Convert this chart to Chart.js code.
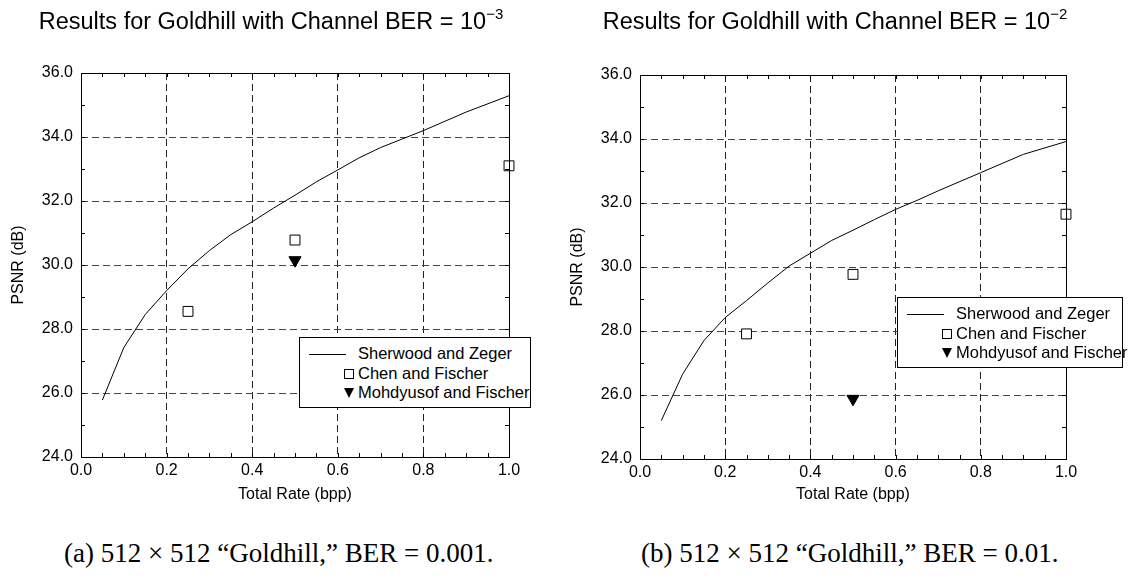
<!DOCTYPE html>
<html>
<head>
<meta charset="utf-8">
<script src="https://cdn.jsdelivr.net/npm/chart.js@4.4.1/dist/chart.umd.min.js"></script>
<style>
  html, body { margin: 0; padding: 0; background: #fff; }
  body { width: 1130px; height: 586px; position: relative; overflow: hidden; font-family: "Liberation Sans", Arial, sans-serif; color: #000; }
  canvas { position: absolute; top: 0; }
  #chartA { left: 0; }
  #chartB { left: 559px; }
  .title { position: absolute; top: 10px; width: 560px; text-align: center; font-size: 23.5px; line-height: 23px; white-space: nowrap; }
  .title sup { font-size: 15px; line-height: 0; vertical-align: 10px; }
  .legend { position: absolute; height: 71px; border: 1px solid #000; background: #fff; font-size: 16.5px; padding-top: 6px; box-sizing: border-box; }
  .legend .row { position: relative; height: 19.5px; line-height: 19.5px; padding-left: 58px; white-space: nowrap; }
  .legend .sym { position: absolute; }
  .legend .line { left: 9px; top: 10px; width: 37px; border-top: 1px solid #000; }
  .legend .rect { left: 44px; top: 5px; width: 8px; height: 8px; border: 1px solid #000; }
  .legend .tri { left: 44px; top: 5px; width: 0; height: 0; border-left: 5.5px solid transparent; border-right: 5.5px solid transparent; border-top: 10px solid #000; }
  .caption { position: absolute; top: 538px; font-family: "Liberation Serif", "Times New Roman", serif; font-size: 27px; white-space: nowrap; }
</style>
</head>
<body>
<canvas id="chartA" width="560" height="510"></canvas>
<canvas id="chartB" width="560" height="510"></canvas>
<div class="title" id="titleA" style="left:-9px">Results for Goldhill with Channel BER = 10<sup>&minus;3</sup></div>
<div class="title" id="titleB" style="left:555px">Results for Goldhill with Channel BER = 10<sup>&minus;2</sup></div>
<div class="legend" id="legendA" style="left:299px; top:337px; width:232px"></div>
<div class="legend" id="legendB" style="left:897px; top:297px; width:226px"></div>
<div class="caption" style="left:64px">(a) 512 &times; 512 &ldquo;Goldhill,&rdquo; BER = 0.001.</div>
<div class="caption" style="left:641px">(b) 512 &times; 512 &ldquo;Goldhill,&rdquo; BER = 0.01.</div>

<script>
// total rate (bpp) samples of the Sherwood and Zeger curve
const RATE = [0.05, 0.1, 0.15, 0.2, 0.25, 0.3, 0.35, 0.4, 0.45, 0.5, 0.55, 0.6, 0.65, 0.7, 0.8, 0.9, 1.0];
const SZ_BER3 = [25.78, 27.42, 28.45, 29.2, 29.88, 30.45, 30.95, 31.35, 31.78, 32.18, 32.6, 32.97, 33.35, 33.67, 34.2, 34.78, 35.29];
const SZ_BER2 = [25.2, 26.65, 27.7, 28.42, 28.95, 29.5, 30.03, 30.43, 30.83, 31.15, 31.48, 31.8, 32.08, 32.38, 32.95, 33.52, 33.92];

// Chen and Fischer
const CF_RATE = [0.25, 0.5, 1.0];
const CF_BER3 = [28.55, 30.78, 33.1];
const CF_BER2 = [27.91, 29.77, 31.65];

// Mohdyusof and Fischer
const MF_RATE = [0.5];
const MF_BER3 = [30.15];
const MF_BER2 = [25.88];

const SERIES = ['Sherwood and Zeger', 'Chen and Fischer', 'Mohdyusof and Fischer'];

// axes
const X_RANGE = [0, 1];
const X_MAJOR = 0.2;
const X_MINOR = 0.05;
const Y_RANGE = [24, 36];
const Y_MAJOR = 2;
const Y_MINOR = 1;

const FONT = '"Liberation Sans", Arial, sans-serif';

function xy(xs, ys) {
  return xs.map((x, i) => ({ x, y: ys[i] }));
}

function isMajor(v, step) {
  return Math.abs(v / step - Math.round(v / step)) < 1e-6;
}

// box round the plot plus short inward ticks on all four sides
const frameTicks = {
  id: 'frameTicks',
  afterDraw(chart) {
    const { ctx, chartArea: a, scales: { x, y } } = chart;
    const len = 4;
    ctx.save();
    ctx.strokeStyle = '#000';
    ctx.lineWidth = 1;
    ctx.beginPath();
    x.ticks.forEach(t => {
      const px = Math.round(x.getPixelForValue(t.value)) + 0.5;
      ctx.moveTo(px, a.bottom); ctx.lineTo(px, a.bottom - len);
      ctx.moveTo(px, a.top); ctx.lineTo(px, a.top + len);
    });
    y.ticks.forEach(t => {
      const py = Math.round(y.getPixelForValue(t.value)) + 0.5;
      ctx.moveTo(a.left, py); ctx.lineTo(a.left + len, py);
      ctx.moveTo(a.right, py); ctx.lineTo(a.right - len, py);
    });
    ctx.stroke();
    ctx.strokeRect(Math.round(a.left) + 0.5, Math.round(a.top) + 0.5, Math.round(a.width), Math.round(a.height));
    ctx.restore();
  }
};

function makeChart(id, sz, cf, mf, area) {
  return new Chart(document.getElementById(id), {
    type: 'scatter',
    data: {
      datasets: [
        { label: SERIES[0], data: xy(RATE, sz), showLine: true, borderColor: '#000', borderWidth: 1, pointRadius: 0, tension: 0, clip: false },
        { label: SERIES[1], data: xy(CF_RATE, cf), pointStyle: 'rect', pointRadius: 7, borderColor: '#000', backgroundColor: '#fff', borderWidth: 1, clip: false },
        { label: SERIES[2], data: xy(MF_RATE, mf), pointStyle: 'triangle', rotation: 180, pointRadius: 7, borderColor: '#000', backgroundColor: '#000', borderWidth: 1, clip: false }
      ]
    },
    options: {
      responsive: false,
      animation: false,
      events: [],
      layout: { padding: { left: 0, top: area.top, right: area.right, bottom: 0 } },
      plugins: { legend: { display: false }, tooltip: { enabled: false } },
      scales: {
        x: {
          type: 'linear', min: X_RANGE[0], max: X_RANGE[1],
          afterFit: s => { s.height = area.xh; },
          ticks: {
            stepSize: X_MINOR, autoSkip: false, maxTicksLimit: 100, maxRotation: 0, padding: 4,
            color: '#000', font: { family: FONT, size: 16 },
            callback: v => isMajor(v, X_MAJOR) ? v.toFixed(1) : ''
          },
          grid: { drawTicks: false, lineWidth: 1, color: c => isMajor(c.tick.value, X_MAJOR) ? '#222' : 'rgba(0,0,0,0)' },
          border: { display: false, dash: [7, 4] },
          title: { display: true, text: 'Total Rate (bpp)', color: '#000', font: { family: FONT, size: 16 }, padding: { top: 0, bottom: 6 } }
        },
        y: {
          type: 'linear', min: Y_RANGE[0], max: Y_RANGE[1],
          afterFit: s => { s.width = area.yw; },
          ticks: {
            stepSize: Y_MINOR, autoSkip: false, maxTicksLimit: 100, padding: 8,
            color: '#000', font: { family: FONT, size: 16 },
            callback: v => isMajor(v, Y_MAJOR) ? v.toFixed(1) : ''
          },
          grid: { drawTicks: false, lineWidth: 1, color: c => isMajor(c.tick.value, Y_MAJOR) ? '#444' : 'rgba(0,0,0,0)' },
          border: { display: false, dash: [7, 4] },
          title: { display: true, text: 'PSNR (dB)', color: '#000', font: { family: FONT, size: 16 }, padding: { top: 9, bottom: 0 } }
        }
      }
    },
    plugins: [frameTicks]
  });
}

function renderLegend(el, chart) {
  const kinds = ['line', 'rect', 'tri'];
  el.innerHTML = chart.data.datasets.map((ds, i) =>
    `<div class="row"><span class="sym ${kinds[i]}"></span>${ds.label}</div>`
  ).join('');
}

const chartA = makeChart('chartA', SZ_BER3, CF_BER3, MF_BER3, { top: 73, right: 51, yw: 81, xh: 53 });
const chartB = makeChart('chartB', SZ_BER2, CF_BER2, MF_BER2, { top: 75, right: 53, yw: 81, xh: 51 });
renderLegend(document.getElementById('legendA'), chartA);
renderLegend(document.getElementById('legendB'), chartB);
</script>
</body>
</html>
